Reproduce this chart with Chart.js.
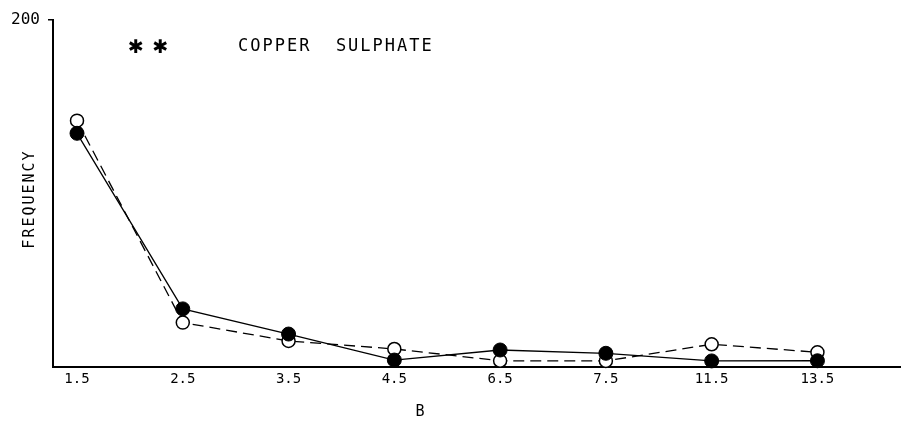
<!DOCTYPE html>
<html>
<head>
<meta charset="utf-8">
<script src="https://cdn.jsdelivr.net/npm/chart.js@4.4.1/dist/chart.umd.min.js"></script>
<style>
html,body{margin:0;padding:0;background:#fff;}
#wrap{width:901px;height:424px;}
</style>
</head>
<body>
<div id="wrap"><canvas id="c" width="901" height="424"></canvas></div>
<script>
const xLabels = ['1.5','2.5','3.5','4.5','6.5','7.5','11.5','13.5'];
const filledValues = [134.7, 33.5, 19, 4, 9.8, 7.9, 3.5, 3.6];
const openValues = [142, 25.6, 15, 10.4, 3.6, 3.5, 13.1, 8.5];
const yTickValues = [200];
const titleText = 'COPPER  SULPHATE';
const starText = '\u2731 \u2731';
const xTitle = 'B';
const yTitle = 'FREQUENCY';

const MONO = "'DejaVu Sans Mono', monospace";

const annot = {
  id: 'annot',
  afterDraw(chart) {
    const ctx = chart.ctx;
    const a = chart.chartArea;
    ctx.save();
    ctx.fillStyle = '#000';
    ctx.textBaseline = 'middle';
    ctx.textAlign = 'left';
    ctx.font = "17px " + MONO;
    try { ctx.letterSpacing = '2px'; } catch(e) {}
    ctx.fillText(titleText, a.left + 185, 47);
    try { ctx.letterSpacing = '1px'; } catch(e) {}
    ctx.font = "bold 19px 'DejaVu Sans'";
    ctx.fillText(starText, a.left + 75, 48);
    try { ctx.letterSpacing = '0px'; } catch(e) {}
    ctx.textAlign = 'center';
    ctx.font = "15px " + MONO;
    ctx.fillText(xTitle, 420, 412);
    // y axis title
    ctx.save();
    ctx.translate(30, 200);
    ctx.rotate(-Math.PI / 2);
    try { ctx.letterSpacing = '2px'; } catch(e) {}
    ctx.font = "15px " + MONO;
    ctx.fillText(yTitle, 1, 0);
    ctx.restore();
    ctx.restore();
  }
};

new Chart(document.getElementById('c'), {
  type: 'line',
  data: {
    datasets: [
      {
        label: 'filled',
        data: filledValues.map((v, i) => ({x: i, y: v})),
        borderColor: '#000',
        borderWidth: 1.3,
        backgroundColor: '#000',
        pointBackgroundColor: '#000',
        pointBorderColor: '#000',
        pointBorderWidth: 1,
        pointRadius: 7,
        tension: 0,
        clip: false
      },
      {
        label: 'open',
        data: openValues.map((v, i) => ({x: i, y: v})),
        borderColor: '#000',
        borderWidth: 1.3,
        borderDash: [11, 6],
        backgroundColor: '#fff',
        pointBackgroundColor: '#fff',
        pointBorderColor: '#000',
        pointBorderWidth: 1.5,
        pointRadius: 6.5,
        tension: 0,
        clip: false
      }
    ]
  },
  options: {
    responsive: false,
    animation: false,
    layout: { autoPadding: false, padding: { top: 20, right: 0, bottom: 0, left: 0 } },
    plugins: { legend: { display: false }, tooltip: { enabled: false } },
    scales: {
      x: {
        type: 'linear',
        min: -0.227,
        max: 7.79,
        afterBuildTicks: s => { s.ticks = xLabels.map((l, i) => ({value: i})); },
        afterFit: s => { s.height = 57; s.paddingLeft = 0; s.paddingRight = 0; },
        ticks: {
          autoSkip: false,
          maxRotation: 0,
          padding: 4,
          color: '#000',
          font: { family: MONO, size: 14 },
          callback: (v, i) => xLabels[i]
        },
        grid: { display: true, drawOnChartArea: false, drawTicks: false, color: 'rgba(0,0,0,0)' },
        border: { display: true, color: '#000', width: 2 }
      },
      y: {
        type: 'linear',
        min: 0,
        max: 200,
        afterBuildTicks: s => { s.ticks = yTickValues.map(v => ({value: v})); },
        afterFit: s => { s.width = 53; s.paddingTop = 0; s.paddingBottom = 0; },
        ticks: {
          padding: 8,
          color: '#000',
          font: { family: MONO, size: 16 },
          callback: v => String(v)
        },
        grid: { display: true, drawOnChartArea: false, drawTicks: true, tickLength: 5, color: '#000', lineWidth: 1.5 },
        border: { display: true, color: '#000', width: 2 },
        title: { display: false }
      }
    }
  },
  plugins: [annot]
});
</script>
</body>
</html>
